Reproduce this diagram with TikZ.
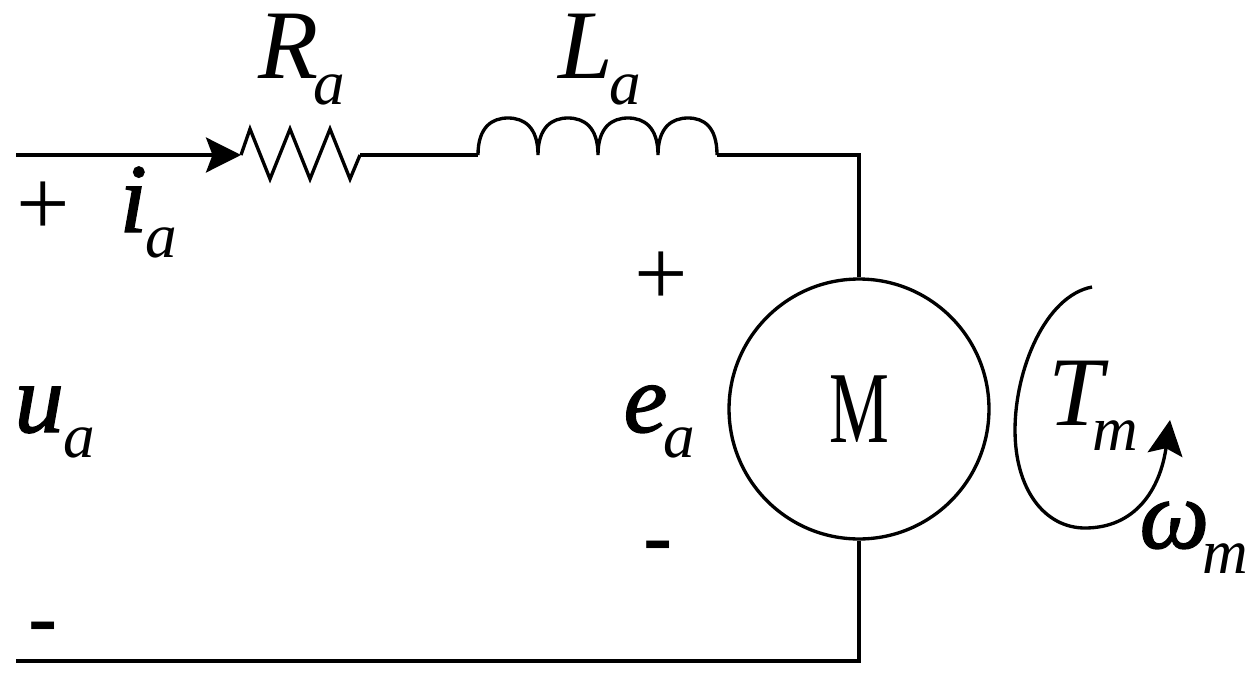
\documentclass[tikz,border=0pt]{standalone}
\usepackage{fontspec}
\usepackage{graphicx}
\setmainfont{Liberation Serif}
\newfontfamily\semifont[FakeBold=1.5]{Liberation Serif Italic}
\usetikzlibrary{arrows.meta}
\newcommand{\lbl}[3]{{\fontsize{56pt}{56pt}\selectfont #1}\kern#3\raisebox{-14.5pt}{\fontsize{36pt}{36pt}\selectfont\normalfont\itshape #2}}
\tikzset{every scope/.style={>={Stealth[length=7mm,width=7mm,inset=1.3mm]},line width=1.9pt}}
\tikzset{sym/.style={anchor=base west,inner sep=0pt,font=\itshape},
  heavy/.style={anchor=base west,inner sep=0pt,font=\semifont},
  sign/.style={inner sep=0pt,font=\fontsize{54pt}{54pt}\selectfont}}

\begin{document}
\begin{tikzpicture}[x=0.02cm,y=-0.02cm]
    \useasboundingbox (0,0) rectangle (1253,679);
    \begin{scope}
      \coordinate (IN) at (16,155);
      \coordinate (R0) at (241,155);
      \coordinate (R1) at (360,155);
      \coordinate (L0) at (478,155);
      \coordinate (L1) at (717,155);
      \coordinate (OUT) at (16,661);
      \node[draw,circle,minimum size=5.2cm,inner sep=0pt] (M) at (859,409) {\scalebox{0.66}[1]{\fontsize{58pt}{58pt}\selectfont M}};
      \draw[->] (IN) -- (R0);
      \draw[line join=miter] (R0) -- (250,129) -- (270,179) -- (290,129) -- (310,179) -- (330,129) -- (350,179) -- (R1);
      \draw (R1) -- (L0);
      \draw (L0) .. controls +(0,-28) and +(-16,0) .. ++(30,-37) .. controls +(16,0) and +(0,-28) .. ++(30,37)
                 .. controls +(0,-28) and +(-16,0) .. ++(30,-37) .. controls +(16,0) and +(0,-28) .. ++(30,37)
                 .. controls +(0,-28) and +(-16,0) .. ++(30,-37) .. controls +(16,0) and +(0,-28) .. ++(30,37)
                 .. controls +(0,-28) and +(-16,0) .. ++(30,-37) .. controls +(16,0) and +(0,-28) .. (L1);
      \draw (L1) -| (M.north);
      \draw (M.south) |- (OUT);
      \coordinate (W0) at (1092,287);
      \coordinate (W1) at (1170,420);
      \draw[->] (W0) .. controls (1045,296) and (1015,370) .. (1015,430)
                .. controls (1015,490) and (1045,528) .. (1085,528)
                .. controls (1135,528) and (1160,490) .. (W1);
      \node[sym] (Ra) at (257,79) {\lbl{R}{a}{-3pt}};
      \node[sym] (La) at (557,79) {\lbl{L}{a}{-2pt}};
      \node[heavy] (Ia) at (118,232) {\lbl{i}{a}{-1pt}};
      \node[heavy] (Ua) at (13,432) {\lbl{u}{a}{0pt}};
      \node[heavy] (Ea) at (622,432) {\lbl{e}{a}{-2pt}};
      \node[sym] (Tm) at (1047,425) {\lbl{T}{m}{-6pt}};
      \node[heavy] (Wm) at (1138,548) {\lbl{ω}{m}{-4pt}};
      \node[sign] (P1) at (43,209) {+};
      \node[sign] (P2) at (661,279) {+};
      \node[sign,font=\fontsize{50pt}{50pt}\selectfont\bfseries] (N1) at (43,634) {-};
      \node[sign,font=\fontsize{50pt}{50pt}\selectfont\bfseries] (N2) at (658,553) {-};
    \end{scope}
\end{tikzpicture}
\end{document}
